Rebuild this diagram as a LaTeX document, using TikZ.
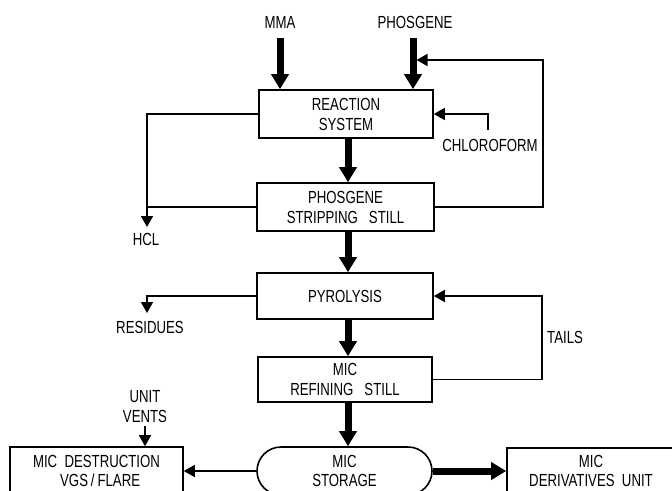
\documentclass[tikz,border=0pt]{standalone}
\usepackage{fontspec}
\setmainfont{Liberation Sans}[FakeStretch=0.755]
\usetikzlibrary{arrows.meta,shapes.misc}
\begin{document}
\begin{tikzpicture}[x=1pt,y=-1pt,
  lbl/.style={font=\fontsize{17.5pt}{20pt}\selectfont, align=center, inner sep=0pt},
  box/.style={lbl, draw, line width=1.6pt, minimum height=48pt},
  low/.style={font=\fontsize{17.5pt}{18.5pt}\selectfont},
  thk/.style={line width=7pt, -{Triangle[length=15pt,width=17pt]}},
  thn/.style={line width=1.6pt, -{Triangle[length=11pt,width=12pt]}},
  ln/.style={line width=1.6pt}]
\useasboundingbox (0,0) rectangle (672,490);
% labels
\node[lbl] (mma) at (280,22) {MMA};
\node[lbl] (phos) at (415,22) {PHOSGENE};
\coordinate (mmain) at (280,38);
\coordinate (phin) at (413,38);
% boxes
\node[box, minimum width=174pt] (rs) at (346,114) {REACTION\\SYSTEM};
\node[box, minimum width=177pt] (ss) at (345.5,207) {PHOSGENE\\STRIPPING\ \ \ STILL};
\node[box, minimum width=176pt, minimum height=46pt] (py) at (345,296) {PYROLYSIS};
\node[box, minimum width=174pt, minimum height=45pt] (rf) at (345,379.5) {MIC\\REFINING\ \ \ STILL};
\node[box, low, rounded rectangle, minimum width=175pt] (st) at (344.5,471) {MIC\\STORAGE};
\node[box, low, minimum width=173pt] (md) at (96.5,471) {MIC\ \ DESTRUCTION\\\ \ VGS\,/\,FLARE};
\node[box, low, minimum width=168pt, minimum height=46pt] (du) at (591,471) {MIC\\DERIVATIVES\ \ UNIT};
% side labels
\node[lbl] (chlt) at (490,145) {CHLOROFORM};
\node[lbl] (hcl) at (146,239) {HCL};
\node[lbl] (res) at (150,327) {RESIDUES};
\node[lbl, anchor=west] (tails) at (547,337) {TAILS};
\node[lbl] (uv) at (145,407) {UNIT\\VENTS};
% coordinates
\coordinate (fb) at (416.5,60);
\coordinate (chl) at (488,130);
\coordinate (hclend) at (147,227);
\coordinate (resend) at (147,313);
% thick flows
\draw[thk] (mmain) -- (mmain |- rs.north);
\draw[thk] (phin) -- (phin |- rs.north);
\draw[thk] ([xshift=2pt]rs.south) -- ([xshift=2pt]rs.south |- ss.north);
\draw[thk] ([xshift=2.5pt]ss.south) -- ([xshift=2.5pt]ss.south |- py.north);
\draw[thk] ([xshift=3pt]py.south) -- ([xshift=3pt]py.south |- rf.north);
\draw[thk] ([xshift=3pt]rf.south) -- ([xshift=3pt]rf.south |- st.north);
\draw[thk] (st.east) -- (du.west);
% thin flows
\draw[thn] (ss.east) -| (543,60) -- (fb);
\draw[thn] (chl) |- (rs.east);
\draw[thn] (rs.west) -| (hclend);
\draw[ln] (ss.west) -- (ss.west -| hclend);
\draw[thn] (py.west) -| (resend);
\draw[thn] (rf.east) -| (542,296) -- (py.east);
\draw[thn] ([yshift=-3pt]uv.south) -- (uv.south |- md.north);
\draw[thn] (st.west) -- (md.east);
\end{tikzpicture}
\end{document}
